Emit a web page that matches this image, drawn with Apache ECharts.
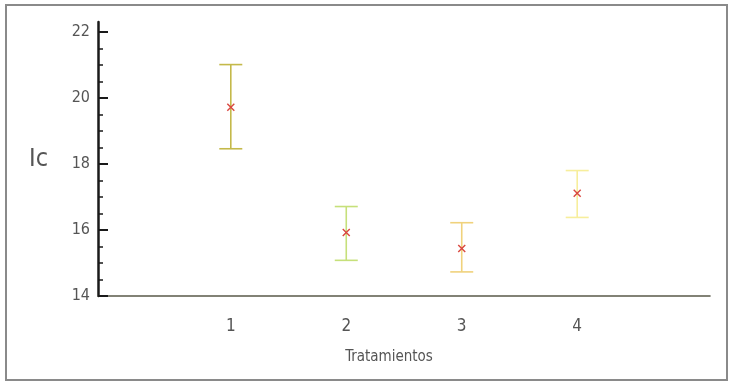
<!DOCTYPE html>
<html lang="es" style="height: 100%">
<head>
    <meta charset="UTF-8">
    <title>Ic por tratamiento</title>
    <script src="https://cdn.jsdelivr.net/npm/echarts@6/dist/echarts.min.js"></script>
</head>
<body style="height: 100%; margin: 0; background: #fff">
    <div id="main" style="width: 731px; height: 384px"></div>
    <script>
        // datos
        var tratamientos = [1, 2, 3, 4];
        var medias = [19.72, 15.92, 15.44, 17.11];
        var inferiores = [18.46, 15.08, 14.73, 16.38];
        var superiores = [21.01, 16.71, 16.22, 17.80];
        var yTicks = [14, 16, 18, 20, 22];
        var yMinorTicks = [14.5, 15, 15.5, 16.5, 17, 17.5, 18.5, 19, 19.5, 20.5, 21, 21.5];

        var colores = ['#c4b94a', '#c6e07a', '#f0d27c', '#f7ee9c'];
        var fuente = "'DejaVu Sans Condensed', 'Liberation Sans Narrow', sans-serif";

        var datos = tratamientos.map(function (t, i) {
            return [t, inferiores[i], superiores[i], medias[i], i];
        });

        var chart = echarts.init(document.getElementById('main'));

        function renderBarra(params, api) {
            var x = api.value(0);
            var lo = api.coord([x, api.value(1)]);
            var hi = api.coord([x, api.value(2)]);
            var mid = api.coord([x, api.value(3)]);
            var color = colores[api.value(4)];
            var hw = 11.5; // medio ancho del remate
            var m = 3.5;   // tamano de la cruz
            var st = { stroke: color, lineWidth: 1.6 };
            var cruz = { stroke: '#d9473f', lineWidth: 1.4 };
            return {
                type: 'group',
                children: [
                    { type: 'line', shape: { x1: lo[0], y1: lo[1], x2: hi[0], y2: hi[1] }, style: st },
                    { type: 'line', shape: { x1: lo[0] - hw, y1: lo[1], x2: lo[0] + hw, y2: lo[1] }, style: st },
                    { type: 'line', shape: { x1: hi[0] - hw, y1: hi[1], x2: hi[0] + hw, y2: hi[1] }, style: st },
                    { type: 'line', shape: { x1: mid[0] - m, y1: mid[1] - m, x2: mid[0] + m, y2: mid[1] + m }, style: cruz },
                    { type: 'line', shape: { x1: mid[0] - m, y1: mid[1] + m, x2: mid[0] + m, y2: mid[1] - m }, style: cruz }
                ]
            };
        }

        var option = {
            animation: false,
            backgroundColor: '#fff',
            graphic: [{
                type: 'rect',
                shape: { x: 6, y: 5, width: 721, height: 375 },
                style: { fill: 'none', stroke: '#8a8a8a', lineWidth: 2 },
                silent: true
            }],
            grid: { left: 98, right: 21, top: 22, bottom: 88 },
            xAxis: {
                type: 'value',
                min: -0.15,
                max: 5.15,
                name: 'Tratamientos',
                nameLocation: 'middle',
                nameGap: 54,
                nameTextStyle: { color: '#555', fontSize: 15, fontFamily: fuente, padding: [0, 30, 0, 0] },
                splitLine: { show: false },
                axisTick: { show: false },
                axisLine: { onZero: false, lineStyle: { color: '#5a5a4a', width: 1.6 } },
                axisLabel: {
                    customValues: tratamientos,
                    color: '#555',
                    fontSize: 17,
                    fontFamily: fuente,
                    margin: 22
                }
            },
            yAxis: [{
                type: 'value',
                min: 14,
                max: 22.3,
                name: 'Ic',
                nameLocation: 'middle',
                nameRotate: 0,
                nameGap: 50,
                nameTextStyle: { color: '#555', fontSize: 25, fontFamily: fuente, padding: [18, 0, 0, 0] },
                splitLine: { show: false },
                axisLine: { show: true, onZero: false, lineStyle: { color: '#1a1a1a', width: 2.5 } },
                axisTick: {
                    show: true,
                    inside: true,
                    length: 10,
                    customValues: yTicks,
                    lineStyle: { color: '#1a1a1a', width: 2 }
                },
                axisLabel: {
                    customValues: yTicks,
                    color: '#555',
                    fontSize: 16,
                    fontFamily: fuente,
                    margin: 8
                }
            }, {
                type: 'value',
                min: 14,
                max: 22.3,
                position: 'left',
                offset: 0,
                splitLine: { show: false },
                axisLine: { show: false, onZero: false },
                axisTick: {
                    show: true,
                    inside: true,
                    length: 5,
                    customValues: yMinorTicks,
                    lineStyle: { color: '#1a1a1a', width: 1.5 }
                },
                axisLabel: { show: false }
            }],
            series: [{
                type: 'custom',
                renderItem: renderBarra,
                data: datos,
                encode: { x: 0, y: [1, 2] },
                z: 10
            }]
        };

        chart.setOption(option);
    </script>
</body>
</html>
